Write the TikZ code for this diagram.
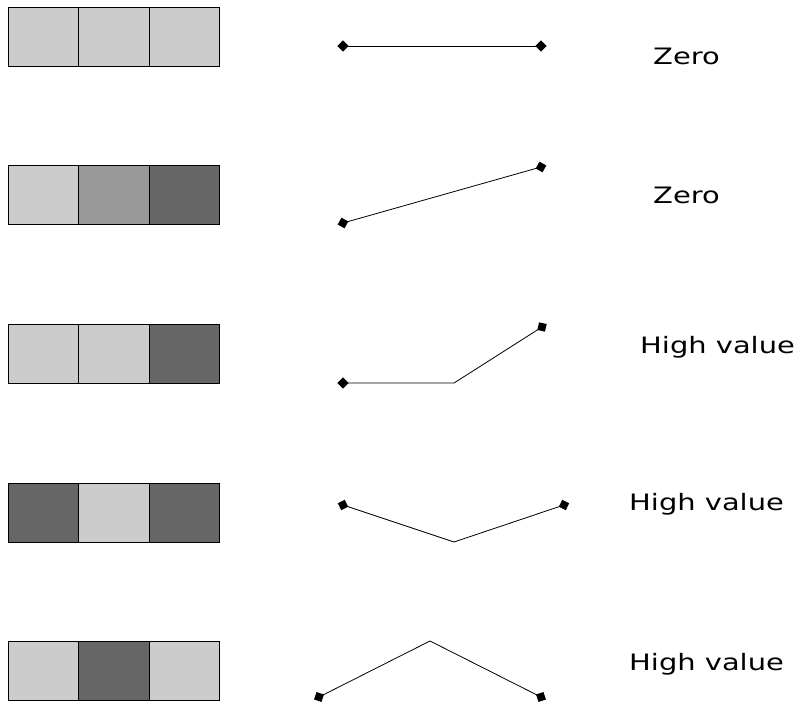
\documentclass[tikz,border=0pt]{standalone}
\usepackage{fontspec}
\newfontfamily\lblfont[FakeStretch=1.28]{DejaVu Sans}
\definecolor{gl}{HTML}{CCCCCC}
\definecolor{gm}{HTML}{999999}
\definecolor{gd}{HTML}{666666}
\tikzset{
  cell/.style={draw=black, line width=0.9pt, minimum width=70.5pt, minimum height=59pt, inner sep=0pt, outer sep=0pt},
  conn/.style={draw=black, line width=0.8pt},
  mk/.style={fill=black, draw=none, minimum size=7.8pt, inner sep=0pt, sloped, rotate=45},
  lbl/.style={font=\lblfont\fontsize{22.6}{26}\selectfont, anchor=base west, inner sep=0pt}
}
\begin{document}
\begin{tikzpicture}[x=1pt,y=-1pt]
\useasboundingbox (0,0) rectangle (798,706);
% row 1
\node[cell,fill=gl] (a1) at (43.25,36.5) {};
\node[cell,fill=gl] (b1) at (113.75,36.5) {};
\node[cell,fill=gl] (c1) at (184.25,36.5) {};
\coordinate (p1) at (343,46);
\coordinate (q1) at (541,46);
\draw[conn] (p1) -- node[mk,pos=0]{} node[mk,pos=1]{} (q1);
\node[lbl] (t1) at (653,65) {Zero};
% row 2
\node[cell,fill=gl] (a2) at (43.25,194.5) {};
\node[cell,fill=gm] (b2) at (113.75,194.5) {};
\node[cell,fill=gd] (c2) at (184.25,194.5) {};
\coordinate (p2) at (343,223);
\coordinate (q2) at (541,167);
\draw[conn] (p2) -- node[mk,pos=0]{} node[mk,pos=1]{} (q2);
\node[lbl] (t2) at (653,203.5) {Zero};
% row 3
\node[cell,fill=gl] (a3) at (43.25,353.5) {};
\node[cell,fill=gl] (b3) at (113.75,353.5) {};
\node[cell,fill=gd] (c3) at (184.25,353.5) {};
\coordinate (p3) at (343,383);
\coordinate (m3) at (454,383);
\coordinate (q3) at (542,327);
\draw[conn] (p3) -- node[mk,pos=0]{} (m3) -- node[mk,pos=1]{} (q3);
\node[lbl] (t3) at (640,353.5) {High value};
% row 4
\node[cell,fill=gd] (a4) at (43.25,512.5) {};
\node[cell,fill=gl] (b4) at (113.75,512.5) {};
\node[cell,fill=gd] (c4) at (184.25,512.5) {};
\coordinate (p4) at (343,505);
\coordinate (m4) at (454,542);
\coordinate (q4) at (564,505);
\draw[conn] (p4) -- node[mk,pos=0]{} (m4) -- node[mk,pos=1]{} (q4);
\node[lbl] (t4) at (629,510) {High value};
% row 5
\node[cell,fill=gl] (a5) at (43.25,670.5) {};
\node[cell,fill=gd] (b5) at (113.75,670.5) {};
\node[cell,fill=gl] (c5) at (184.25,670.5) {};
\coordinate (p5) at (319,697);
\coordinate (m5) at (430,641);
\coordinate (q5) at (541,697);
\draw[conn] (p5) -- node[mk,pos=0]{} (m5) -- node[mk,pos=1]{} (q5);
\node[lbl] (t5) at (629,670) {High value};
\end{tikzpicture}
\end{document}
